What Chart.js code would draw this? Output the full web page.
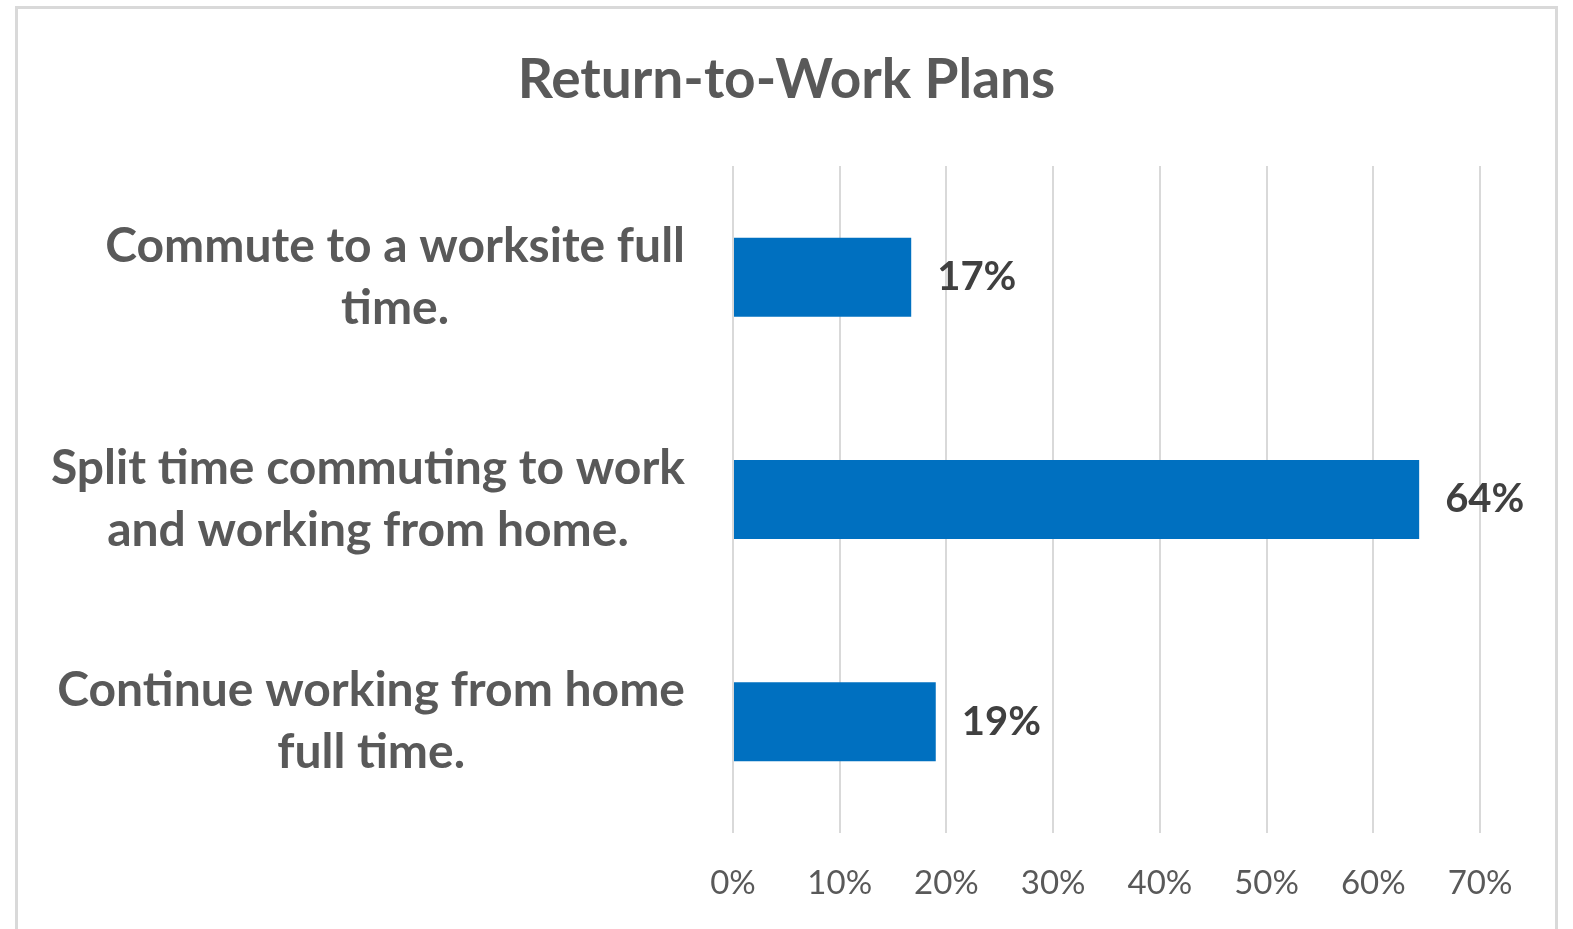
<!DOCTYPE html>
<html>
<head>
<meta charset="utf-8">
<script src="https://cdn.jsdelivr.net/npm/chart.js@4/dist/chart.umd.min.js"></script>
<style>
  html, body { margin: 0; padding: 0; background: #fff; overflow: hidden; }
  #frame {
    position: absolute; left: 15px; top: 6px;
    width: 1543px; height: 960px;
    border: 3px solid #d9d9d9; box-sizing: border-box;
  }
  #wrap { position: absolute; left: 0; top: 0; width: 1573px; height: 929px; }
</style>
</head>
<body>
<div id="frame"></div>
<div id="wrap"><canvas id="chart"></canvas></div>
<script>
// chart data
const categories = [
  ['Commute to a worksite full', 'time.'],
  ['Split time commuting to work', 'and working from home.'],
  ['Continue working from home', 'full time.']
];
const shares = [16.7, 64.3, 19.0];
const tickValues = [0, 10, 20, 30, 40, 50, 60, 70];

const FONT = 'Lato, "Open Sans", sans-serif';
const GREY = '#595959';

// category labels: each label centred on its own widest line, right edge aligned
const categoryLabels = {
  id: 'categoryLabels',
  afterDraw(chart) {
    const ctx = chart.ctx;
    const yScale = chart.scales.y;
    const rightEdge = 685;
    const lineH = 62;
    ctx.save();
    ctx.font = 'bold 48px ' + FONT;
    ctx.fillStyle = GREY;
    ctx.textAlign = 'center';
    ctx.textBaseline = 'middle';
    categories.forEach((lines, i) => {
      const w = Math.max(...lines.map(l => ctx.measureText(l).width));
      const cx = rightEdge - w / 2;
      const cy = yScale.getPixelForTick(i);
      lines.forEach((l, j) => {
        ctx.fillText(l, cx, cy + (j - (lines.length - 1) / 2) * lineH);
      });
    });
    ctx.restore();
  }
};

// value labels at the end of each bar
const valueLabels = {
  id: 'valueLabels',
  afterDatasetsDraw(chart) {
    const ctx = chart.ctx;
    const meta = chart.getDatasetMeta(0);
    ctx.save();
    ctx.font = 'bold 40px ' + FONT;
    ctx.fillStyle = '#404040';
    ctx.textAlign = 'left';
    ctx.textBaseline = 'middle';
    meta.data.forEach((bar, i) => {
      ctx.fillText(Math.round(shares[i]) + '%', bar.x + 26, bar.y);
    });
    ctx.restore();
  }
};

const ctx = document.getElementById('chart').getContext('2d');
new Chart(ctx, {
  type: 'bar',
  data: {
    labels: categories,
    datasets: [{
      data: shares,
      backgroundColor: '#0070C0',
      borderWidth: 0,
      barPercentage: 0.355,
      categoryPercentage: 1.0
    }]
  },
  options: {
    indexAxis: 'y',
    responsive: true,
    maintainAspectRatio: false,
    animation: false,
    layout: { padding: { left: 93, right: 93, top: 0, bottom: 0 } },
    plugins: {
      legend: { display: false },
      tooltip: { enabled: false },
      title: {
        display: true,
        text: 'Return-to-Work Plans',
        color: GREY,
        font: { family: FONT, size: 55, weight: 'bold', lineHeight: 1.2 },
        padding: { top: 47, bottom: 53 }
      }
    },
    scales: {
      x: {
        position: 'bottom',
        min: 0,
        max: 70,
        afterBuildTicks(scale) {
          scale.ticks = tickValues.map(v => ({ value: v }));
        },
        afterFit(scale) { scale.height = 96; },
        grid: { color: '#d9d9d9', lineWidth: 2, drawTicks: false },
        border: { display: false },
        ticks: {
          color: GREY,
          font: { family: FONT, size: 33 },
          padding: 31,
          callback: v => v + '%'
        }
      },
      y: {
        position: 'left',
        grid: { display: false },
        border: { display: false },
        ticks: { display: false },
        afterFit(scale) { scale.width = 640; }
      }
    }
  },
  plugins: [categoryLabels, valueLabels]
});
</script>
</body>
</html>
